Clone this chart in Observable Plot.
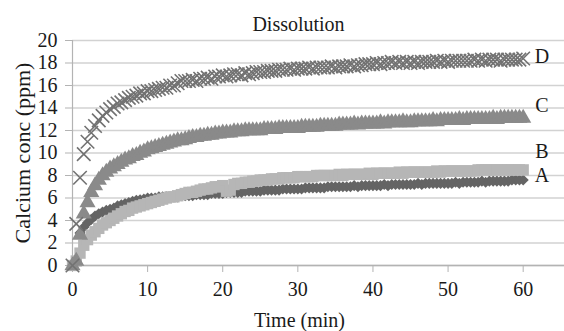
<!DOCTYPE html>
<html><head><meta charset="utf-8">
<script src="https://cdn.jsdelivr.net/npm/d3@7"></script>
<script src="https://cdn.jsdelivr.net/npm/@observablehq/plot@0.6"></script>
<style>html,body{margin:0;padding:0;background:#fff}#chart svg{display:block}</style>
</head><body><div id="chart"></div>
<script>
const times = [
  0,0.5,1,1.5,2,2.5,3,3.5,4,4.5,
  5,5.5,6,6.5,7,7.5,8,8.5,9,9.5,
  10,10.5,11,11.5,12,12.5,13,13.5,14,14.5,
  15,15.5,16,16.5,17,17.5,18,18.5,19,19.5,
  20,20.5,21,21.5,22,22.5,23,23.5,24,24.5,
  25,25.5,26,26.5,27,27.5,28,28.5,29,29.5,
  30,30.5,31,31.5,32,32.5,33,33.5,34,34.5,
  35,35.5,36,36.5,37,37.5,38,38.5,39,39.5,
  40,40.5,41,41.5,42,42.5,43,43.5,44,44.5,
  45,45.5,46,46.5,47,47.5,48,48.5,49,49.5,
  50,50.5,51,51.5,52,52.5,53,53.5,54,54.5,
  55,55.5,56,56.5,57,57.5,58,58.5,59,59.5,
  60
];
const seriesA = [
  0,0.5,2.9,3.4,3.8,4.1,4.4,4.6,4.75,4.9,
  5.0,5.1,5.3,5.4,5.5,5.6,5.7,5.8,5.85,5.9,
  6.0,6.0,6.0,6.1,6.1,6.1,6.1,6.1,6.1,6.2,
  6.2,6.2,6.2,6.3,6.3,6.3,6.3,6.4,6.4,6.4,
  6.4,6.5,6.5,6.5,6.5,6.5,6.6,6.6,6.6,6.6,
  6.6,6.7,6.7,6.7,6.7,6.7,6.8,6.8,6.8,6.8,
  6.8,6.8,6.9,6.9,6.9,6.9,6.9,6.9,7.0,7.0,
  7.0,7.0,7.0,7.0,7.0,7.1,7.0,7.1,7.1,7.1,
  7.1,7.1,7.1,7.2,7.1,7.2,7.2,7.2,7.2,7.2,
  7.2,7.2,7.3,7.2,7.3,7.3,7.3,7.3,7.3,7.3,
  7.3,7.3,7.4,7.3,7.4,7.4,7.4,7.4,7.4,7.5,
  7.4,7.5,7.5,7.5,7.5,7.5,7.5,7.6,7.6,7.6,
  7.6
];
const seriesB = [
  0,0.4,1.1,1.8,2.3,2.7,3.0,3.3,3.6,3.8,
  4.0,4.2,4.4,4.6,4.8,4.9,5.1,5.2,5.3,5.4,
  5.5,5.6,5.7,5.8,5.9,6.0,6.1,6.1,6.2,6.3,
  6.4,6.5,6.5,6.6,6.7,6.8,6.8,6.9,7.0,7.0,
  7.1,6.6,6.7,7.2,7.3,7.3,7.4,7.4,7.5,7.5,
  7.6,7.6,7.6,7.7,7.7,7.7,7.8,7.8,7.8,7.8,
  7.9,7.9,7.9,7.9,7.9,8.0,8.0,8.0,8.0,8.0,
  8.0,8.1,8.0,8.1,8.1,8.1,8.1,8.1,8.1,8.2,
  8.1,8.2,8.2,8.2,8.2,8.2,8.2,8.3,8.2,8.3,
  8.3,8.3,8.3,8.3,8.3,8.3,8.3,8.4,8.3,8.4,
  8.4,8.4,8.4,8.4,8.4,8.4,8.4,8.4,8.5,8.5,
  8.5,8.5,8.5,8.5,8.5,8.5,8.5,8.5,8.5,8.5,
  8.5
];
const seriesC = [
  0,0.4,2.7,4.6,5.6,6.5,7.1,7.6,8.0,8.3,
  8.6,8.8,9.0,9.2,9.4,9.5,9.7,9.8,10.0,10.1,
  10.3,10.4,10.5,10.6,10.7,10.8,10.9,11.0,11.1,11.1,
  11.2,11.3,11.4,11.4,11.5,11.5,11.6,11.6,11.7,11.7,
  11.8,11.8,11.8,11.9,11.9,11.9,12.0,12.0,12.0,12.0,
  12.0,12.1,12.1,12.1,12.1,12.2,12.2,12.2,12.2,12.2,
  12.2,12.3,12.3,12.3,12.3,12.3,12.4,12.4,12.4,12.4,
  12.4,12.5,12.5,12.5,12.5,12.6,12.5,12.6,12.6,12.6,
  12.6,12.6,12.7,12.6,12.7,12.7,12.7,12.7,12.8,12.7,
  12.7,12.8,12.8,12.8,12.8,12.8,12.9,12.8,12.9,12.9,
  12.9,12.9,12.9,13.0,12.9,13.0,13.0,13.0,13.0,13.0,
  13.0,13.0,13.1,13.0,13.1,13.1,13.1,13.1,13.1,13.1,
  13.1
];
const seriesD = [
  0,3.7,7.8,9.9,11.0,11.8,12.4,12.9,13.3,13.6,
  13.9,14.1,14.4,14.5,14.7,14.9,15.0,15.1,15.3,15.3,
  15.5,15.5,15.6,15.7,15.8,15.8,16.0,16.0,16.2,16.4,
  16.4,16.4,16.5,16.4,16.6,16.6,16.7,16.6,16.8,16.8,
  16.9,16.8,16.9,17.0,17.0,16.9,17.1,17.0,17.1,17.2,
  17.2,17.2,17.3,17.3,17.3,17.4,17.4,17.4,17.5,17.4,
  17.5,17.5,17.5,17.6,17.5,17.6,17.6,17.6,17.6,17.7,
  17.6,17.7,17.7,17.7,17.8,17.7,17.8,17.8,17.9,17.9,
  17.9,18.0,17.9,18.0,18.0,18.1,18.0,18.1,18.0,18.1,
  18.0,18.1,18.0,18.1,18.1,18.1,18.1,18.2,18.1,18.2,
  18.1,18.2,18.2,18.2,18.2,18.2,18.2,18.3,18.2,18.3,
  18.2,18.3,18.3,18.3,18.2,18.3,18.3,18.3,18.3,18.3,
  18.4
];
const seriesNames = ["A", "B", "C", "D"];
const labelValues = [8.0, 10.1, 14.2, 18.6];
const labelTime = 62.5;
const xTicks = [0, 10, 20, 30, 40, 50, 60];
const yTicks = [0, 2, 4, 6, 8, 10, 12, 14, 16, 18, 20];
const titleText = "Dissolution";
const xTitle = "Time (min)";
const yTitle = "Calcium conc (ppm)";

const allSeries = [seriesA, seriesB, seriesC, seriesD];
const rows = [];
allSeries.forEach((vals, k) => vals.forEach((v, i) => rows.push({series: seriesNames[k], t: times[i], v})));
const bySeries = name => rows.filter(d => d.series === name);
const labels = seriesNames.map((s, i) => ({s, t: labelTime, v: labelValues[i]}));

const font = "'Liberation Serif', 'Times New Roman', serif";
const ink = "#1a1a1a";
const axisGray = "#b3b3b3";

const chart = Plot.plot({
  width: 564, height: 331,
  marginLeft: 72, marginRight: 0, marginTop: 40, marginBottom: 66,
  style: {fontFamily: font, fontSize: "20px", background: "#fff", color: ink},
  x: {domain: [0, 65.5], label: null},
  y: {domain: [0, 20], label: null},
  marks: [
    Plot.gridY(yTicks, {stroke: "#d2d2d2", strokeOpacity: 1, strokeWidth: 1.5}),
    Plot.ruleX([0], {stroke: axisGray, strokeWidth: 1.2}),
    Plot.ruleY([0], {stroke: axisGray, strokeWidth: 1.5}),
    Plot.axisX(xTicks, {tickSize: 7, tickPadding: 9, stroke: axisGray, fill: ink, fontSize: 20, label: null}),
    Plot.axisY(yTicks, {tickSize: 7, tickPadding: 8, stroke: axisGray, fill: ink, fontSize: 20, label: null}),
    Plot.dot(bySeries("A"), {x: "t", y: "v", symbol: "diamond2", r: 5, fill: "#646464", stroke: "none"}),
    Plot.dot(bySeries("B"), {x: "t", y: "v", symbol: "square", r: 6.4, fill: "#b6b6b6", stroke: "none"}),
    Plot.dot(bySeries("C"), {x: "t", y: "v", symbol: "triangle", r: 6, fill: "#8a8a8a", stroke: "none"}),
    Plot.dot(bySeries("D"), {x: "t", y: "v", symbol: "times", r: 6.2, stroke: "#727272", strokeWidth: 1.6, fill: "none"}),
    Plot.text(labels, {x: "t", y: "v", text: "s", fill: ink, fontSize: 20}),
    Plot.text([titleText], {frameAnchor: "top", textAnchor: "middle", lineAnchor: "middle", dx: -20, dy: -16, fill: ink, fontSize: 20}),
    Plot.text([xTitle], {frameAnchor: "bottom", textAnchor: "middle", lineAnchor: "middle", dx: -19, dy: 55, fill: ink, fontSize: 20}),
    Plot.text([yTitle], {frameAnchor: "left", textAnchor: "middle", lineAnchor: "middle", dx: -50, rotate: -90, fill: ink, fontSize: 22})
  ]
});
document.getElementById("chart").appendChild(chart);
</script>
</body></html>
